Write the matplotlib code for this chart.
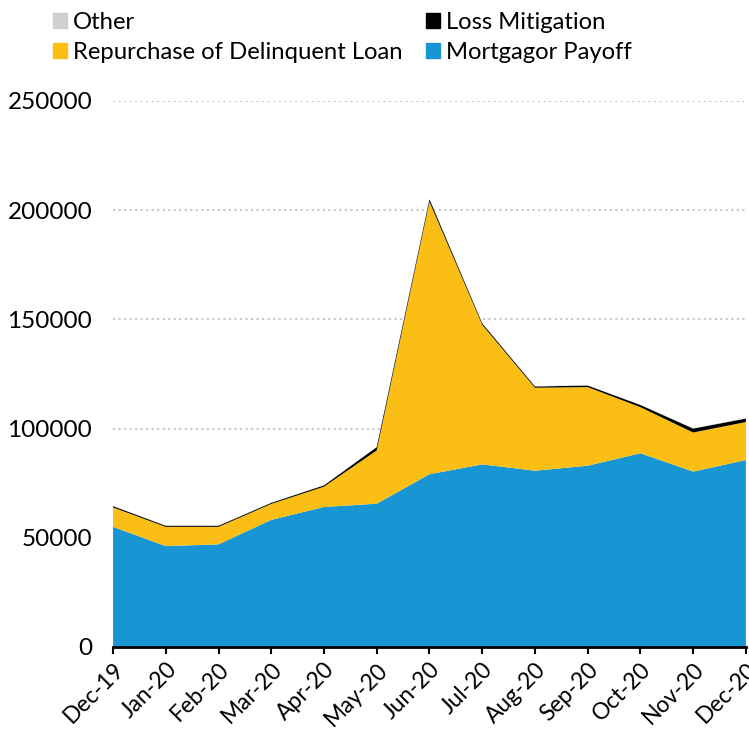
import matplotlib.pyplot as plt
from matplotlib.patches import Patch

months = ['Dec-19', 'Jan-20', 'Feb-20', 'Mar-20', 'Apr-20', 'May-20', 'Jun-20',
          'Jul-20', 'Aug-20', 'Sep-20', 'Oct-20', 'Nov-20', 'Dec-20']
payoff = [55000, 46200, 47000, 58200, 64100, 65600, 79100,
          83600, 80700, 83000, 88700, 80300, 85600]
repurchase = [8900, 8800, 8000, 7300, 9300, 24400, 124700,
              63900, 38000, 36000, 21100, 17900, 17400]
loss_mit = [600, 500, 500, 500, 600, 1500, 1200, 700, 600, 700, 1000, 1800, 1600]
other = [100, 100, 100, 100, 100, 100, 100, 100, 100, 100, 100, 100, 100]

c_payoff = '#1896d3'
c_rep = '#fbbe15'
c_loss = '#000000'
c_other = '#d0d0d0'

plt.rcParams['font.family'] = ['Lato', 'DejaVu Sans']

fig = plt.figure(figsize=(7.49, 7.29), dpi=100)
ax = fig.add_axes([0.1509, 0.1125, 0.845, 0.749])

x = list(range(len(months)))
ax.stackplot(x, payoff, repurchase, loss_mit, other,
             colors=[c_payoff, c_rep, c_loss, c_other], linewidth=0)

ax.set_xlim(0, len(months) - 1)
ax.set_ylim(0, 250000)
ax.set_yticks(range(0, 250001, 50000))
ax.set_xticks(x)
ax.set_xticklabels(months, rotation=45, ha='right', rotation_mode='anchor')
ax.tick_params(axis='x', labelsize=16.5, length=5, width=1.5, color='black')
ax.tick_params(axis='y', labelsize=17.5, length=0, pad=15)
ax.grid(axis='y', linestyle=':', color='#c8c8c8', linewidth=1.5)
ax.set_axisbelow(True)
for s in ['top', 'right', 'left']:
    ax.spines[s].set_visible(False)
ax.spines['bottom'].set_linewidth(2)

handles = [Patch(color=c_other, label='Other'),
           Patch(color=c_rep, label='Repurchase of Delinquent Loan'),
           Patch(color=c_loss, label='Loss Mitigation'),
           Patch(color=c_payoff, label='Mortgagor Payoff')]
fig.legend(handles=handles, ncol=2, loc='upper left', bbox_to_anchor=(0.042, 1.013),
           frameon=False, fontsize=17.2, handlelength=0.58, handleheight=0.58,
           handletextpad=0.25, columnspacing=1.0, labelspacing=0.38)

fig.savefig('out.png', dpi=100)
